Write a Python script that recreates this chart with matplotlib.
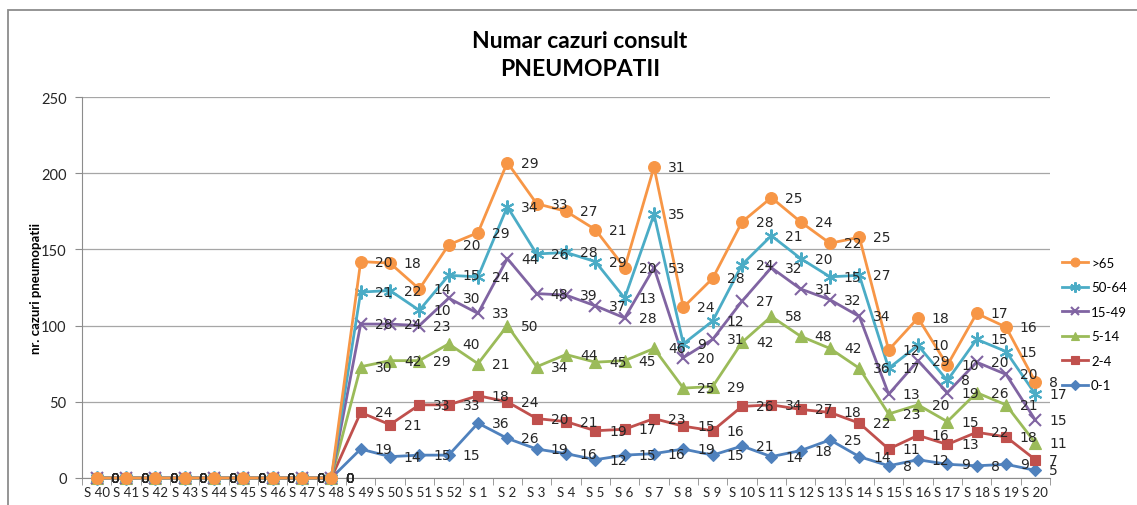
import numpy as np
import matplotlib
matplotlib.use("Agg")
import matplotlib.pyplot as plt
from matplotlib.patches import Rectangle

plt.rcParams["font.family"] = ["Lato", "DejaVu Sans"]

# week labels
weeks = ["S 40", "S 41", "S 42", "S 43", "S 44", "S 45", "S 46", "S 47", "S 48",
         "S 49", "S 50", "S 51", "S 52"] + ["S %d" % i for i in range(1, 21)]

zeros = [0] * 9
# per-age-group counts (lines are stacked)
age_0_1 = zeros + [19, 14, 15, 15, 36, 26, 19, 16, 12, 15, 16, 19, 15, 21, 14, 18, 25, 14, 8, 12, 9, 8, 9, 5]
age_2_4 = zeros + [24, 21, 33, 33, 18, 24, 20, 21, 19, 17, 23, 15, 16, 26, 34, 27, 18, 22, 11, 16, 13, 22, 18, 7]
age_5_14 = zeros + [30, 42, 29, 40, 21, 50, 34, 44, 45, 45, 46, 25, 29, 42, 58, 48, 42, 36, 23, 20, 15, 26, 21, 11]
age_15_49 = zeros + [28, 24, 23, 30, 33, 44, 48, 39, 37, 28, 53, 20, 31, 27, 32, 31, 32, 34, 13, 29, 19, 20, 20, 15]
age_50_64 = zeros + [21, 22, 10, 15, 24, 34, 26, 28, 29, 13, 35, 9, 12, 24, 21, 20, 15, 27, 17, 10, 8, 15, 15, 17]
age_65 = zeros + [20, 18, 14, 20, 29, 29, 33, 27, 21, 20, 31, 24, 28, 28, 25, 24, 22, 25, 12, 18, 10, 17, 16, 8]

series = [
    ("0-1", age_0_1, "#4F81BD", "D", 6.5),
    ("2-4", age_2_4, "#C0504D", "s", 7.5),
    ("5-14", age_5_14, "#9BBB59", "^", 8.5),
    ("15-49", age_15_49, "#8064A2", "x", 8.5),
    ("50-64", age_50_64, "#4BACC6", (6, 2, 0), 10),
    (">65", age_65, "#F79646", "o", 8.5),
]

fig = plt.figure(figsize=(11.37, 5.06), dpi=100)
ax = fig.add_axes([82 / 1137, 1 - 479 / 506, (1050 - 82) / 1137, (479 - 98) / 506])

# outer chart frame
fig.patches.append(Rectangle((8 / 1137, -0.1), 1.2, 1 - 11 / 506 + 0.1, transform=fig.transFigure,
                             fill=False, edgecolor="#8c8c8c", linewidth=1.3))

x = np.arange(len(weeks))
cum = np.zeros(len(weeks))
handles = []
for name, vals, color, marker, ms in series:
    vals = np.array(vals)
    cum = cum + vals
    h, = ax.plot(x, cum, color=color, marker=marker, markersize=ms, linewidth=2.0,
                 markeredgewidth=1.5 if marker in ("x", (6, 2, 0)) else 0.8,
                 markeredgecolor=color, label=name, clip_on=False, zorder=3)
    handles.append(h)
    for xi, yi, v in zip(x, cum, vals):
        ax.annotate(str(v), (xi, yi), xytext=(10, 0), textcoords="offset points",
                    ha="left", va="center", fontsize=10, color="#262626", zorder=4,
                    family=["DejaVu Sans"])

ax.set_xlim(-0.5, len(weeks) - 0.5)
ax.set_ylim(0, 250)
ax.set_yticks([0, 50, 100, 150, 200, 250])
ax.yaxis.grid(True, color="#a6a6a6", linewidth=0.9)
ax.set_axisbelow(True)
ax.set_xticks(x)
ax.set_xticklabels(weeks, fontsize=9.5, color="#262626")
ax.set_xticks(np.arange(-0.5, len(weeks)), minor=True)
ax.tick_params(axis="x", which="major", length=0, pad=6)
ax.tick_params(axis="x", which="minor", length=5, color="#8c8c8c")
ax.tick_params(axis="y", length=5, color="#8c8c8c", labelsize=10.5, labelcolor="#262626", pad=6)
for s in ["top", "right"]:
    ax.spines[s].set_visible(False)
ax.spines["left"].set_color("#8c8c8c")
ax.spines["bottom"].set_color("#8c8c8c")

ax.set_ylabel("nr. cazuri pneumopatii", fontsize=9.5, fontweight="bold")
ax.yaxis.set_label_coords(-0.041, 0.5)

fig.text(580 / 1137, 1 - 41 / 506, "Numar cazuri consult", ha="center", va="center",
         fontsize=16.5, fontweight="bold")
fig.text(580 / 1137, 1 - 69 / 506, "PNEUMOPATII", ha="center", va="center",
         fontsize=16.5, fontweight="bold")

fig.legend(handles[::-1], [h.get_label() for h in handles[::-1]], loc="center left",
           bbox_to_anchor=(1062 / 1137, 1 - 325 / 506), frameon=False, fontsize=9.5,
           handlelength=2.0, handletextpad=0.2, labelspacing=0.95, markerscale=0.75,
           borderaxespad=0, borderpad=0)

fig.savefig("out.png", dpi=100, facecolor="white")
